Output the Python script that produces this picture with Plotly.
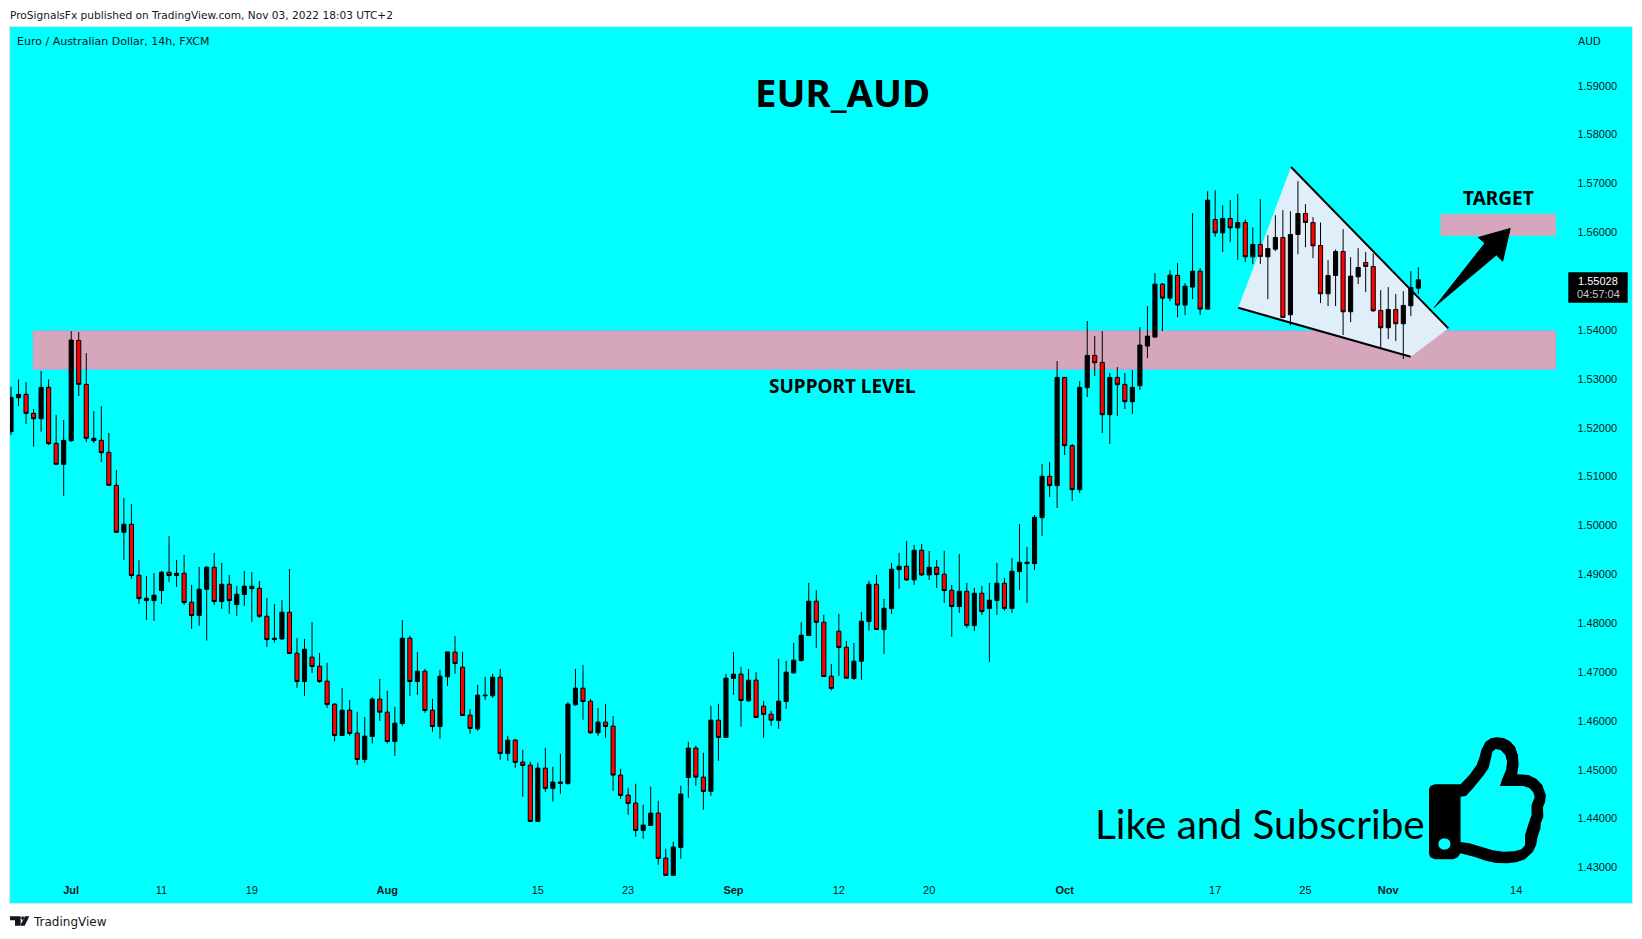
import plotly.graph_objects as go

HIGH = [1.52840,1.52990,1.52936,1.52384,1.53161,1.52990,1.52261,1.52159,1.53979,1.53959,
1.53529,1.52343,1.52445,1.51893,1.51136,1.50563,1.50440,1.49295,1.48968,1.49029,
1.49070,1.49786,1.49295,1.49397,1.48784,1.49152,1.49172,1.49438,1.49234,1.48988,
1.48763,1.49070,1.49050,1.48866,1.48517,1.48394,1.48476,1.49110,1.47699,1.47679,
1.48026,1.47392,1.47188,1.46363,1.46676,1.46431,1.46185,1.46083,1.46485,1.46860,
1.46615,1.46288,1.48067,1.47740,1.47413,1.47066,1.46452,1.47045,1.47413,1.47741,
1.47413,1.46247,1.46738,1.46902,1.46963,1.47066,1.45695,1.45634,1.45409,1.45163,
1.45143,1.45450,1.45061,1.45327,1.46384,1.47066,1.47147,1.46452,1.46268,1.46350,
1.46104,1.45020,1.44632,1.44713,1.44284,1.44652,1.44366,1.43384,1.43527,1.44673,
1.45573,1.45491,1.45348,1.46309,1.46350,1.46963,1.47413,1.47107,1.47066,1.47004,
1.46411,1.46207,1.47270,1.47229,1.47597,1.48020,1.48825,1.48681,1.48170,1.47168,
1.48191,1.47638,1.47597,1.48231,1.48866,1.48988,1.48497,1.49234,1.49438,1.49684,
1.49602,1.49622,1.49479,1.49295,1.49479,1.48784,1.49418,1.48825,1.48722,1.48763,
1.48825,1.49234,1.48927,1.49336,1.50031,1.49561,1.50215,1.51259,1.51299,1.53365,
1.53031,1.51668,1.52956,1.54184,1.53877,1.53979,1.53120,1.53243,1.53120,1.53181,
1.54061,1.54490,1.55165,1.54961,1.55227,1.55370,1.54961,1.56392,1.55267,1.56842,
1.56863,1.56556,1.56658,1.56781,1.56263,1.56099,1.56679,1.55942,1.56351,1.56454,
1.56433,1.57047,1.56576,1.56311,1.56201,1.55431,1.55649,1.56065,1.55492,1.55676,
1.55595,1.55567,1.54817,1.54879,1.54736,1.54797,1.55206,1.55288]

LOW = [1.51852,1.52445,1.52077,1.51613,1.51920,1.51647,1.51252,1.50604,1.51709,1.52649,
1.51709,1.51688,1.51300,1.50822,1.49861,1.49295,1.48906,1.48395,1.48068,1.48047,
1.48395,1.48845,1.48743,1.48375,1.47884,1.47945,1.47645,1.48375,1.48293,1.48191,
1.48150,1.48354,1.48027,1.48109,1.47515,1.47604,1.47658,1.47379,1.46676,1.46513,
1.46983,1.46779,1.46267,1.45579,1.45701,1.45701,1.45101,1.45142,1.45538,1.46001,
1.45538,1.45285,1.45899,1.46513,1.46533,1.46166,1.45777,1.45634,1.46718,1.46963,
1.46111,1.45736,1.45797,1.46432,1.46472,1.45204,1.45184,1.45041,1.44448,1.43943,
1.43943,1.44550,1.44345,1.44509,1.44693,1.46309,1.46023,1.45736,1.45695,1.45654,
1.44570,1.44407,1.44079,1.43629,1.43588,1.43861,1.43057,1.42839,1.42839,1.43179,
1.44427,1.44673,1.44182,1.44468,1.45184,1.45661,1.46534,1.45879,1.46391,1.46070,
1.45654,1.45900,1.45838,1.46247,1.46963,1.47216,1.47747,1.47495,1.46909,1.46622,
1.46922,1.46875,1.46841,1.46841,1.47843,1.47870,1.47372,1.48191,1.48702,1.48866,
1.48784,1.48968,1.48886,1.48722,1.48416,1.47720,1.48211,1.47904,1.47843,1.48170,
1.47209,1.48170,1.48252,1.48211,1.48681,1.48416,1.49090,1.49786,1.50584,1.50359,
1.51443,1.50502,1.50665,1.52629,1.53059,1.51893,1.51668,1.52240,1.52384,1.52281,
1.52772,1.53427,1.53840,1.53979,1.54593,1.54265,1.54306,1.54633,1.54306,1.54429,
1.55908,1.55595,1.55799,1.55431,1.55390,1.55349,1.55349,1.54633,1.55615,1.54245,
1.54095,1.55554,1.55697,1.55472,1.54552,1.54490,1.54490,1.53897,1.54163,1.54940,
1.54777,1.54367,1.53631,1.53815,1.53774,1.53406,1.54286,1.54736]

OPEN = [1.51920,1.52615,1.52684,1.52295,1.52186,1.52827,1.51681,1.51252,1.51736,1.53788,
1.52888,1.51784,1.51743,1.51497,1.50822,1.49861,1.50025,1.48981,1.48511,1.48463,
1.48668,1.49043,1.48975,1.49022,1.48429,1.48156,1.48695,1.49145,1.48443,1.48797,
1.48381,1.48586,1.48756,1.48715,1.48142,1.47665,1.47679,1.48224,1.47385,1.46806,
1.47304,1.47120,1.46813,1.46342,1.45701,1.46220,1.45749,1.45210,1.45681,1.46445,
1.46179,1.45579,1.45947,1.47692,1.46806,1.47018,1.46220,1.45886,1.46902,1.47407,
1.47100,1.46118,1.45838,1.46513,1.46513,1.46895,1.45334,1.45607,1.45157,1.45095,
1.43943,1.45034,1.44618,1.44720,1.44720,1.46329,1.46670,1.46404,1.45757,1.45975,
1.45893,1.44891,1.44482,1.44318,1.43759,1.43861,1.44113,1.43193,1.42839,1.43411,
1.44843,1.45443,1.44850,1.44557,1.46016,1.45661,1.46868,1.46957,1.46411,1.46834,
1.46302,1.46138,1.46009,1.46397,1.46984,1.47236,1.47747,1.48450,1.48020,1.46916,
1.47836,1.47509,1.46868,1.47222,1.48034,1.48797,1.47870,1.48300,1.49097,1.49165,
1.48886,1.49493,1.48988,1.49145,1.49002,1.48675,1.48341,1.48654,1.47952,1.48613,
1.48300,1.48463,1.48818,1.48300,1.49056,1.49220,1.49220,1.50161,1.51006,1.50815,
1.53031,1.51634,1.50734,1.52820,1.53481,1.53338,1.52268,1.53031,1.52888,1.52534,
1.52861,1.53672,1.53856,1.54940,1.54654,1.55117,1.54511,1.54879,1.55206,1.54429,
1.56263,1.55990,1.56283,1.56092,1.56201,1.55499,1.55752,1.55499,1.55656,1.55895,
1.54313,1.55956,1.56386,1.56201,1.55731,1.54742,1.55117,1.55608,1.54374,1.55090,
1.55383,1.55302,1.54402,1.54047,1.54422,1.54129,1.54497,1.54858]

CLOSE = [1.52622,1.52684,1.52295,1.52186,1.52827,1.51675,1.51252,1.51743,1.53795,1.52888,
1.51784,1.51736,1.51490,1.50822,1.49861,1.50025,1.48975,1.48504,1.48463,1.48572,
1.49043,1.48975,1.49022,1.48422,1.48156,1.48695,1.49145,1.48443,1.48797,1.48463,
1.48593,1.48756,1.48709,1.48143,1.47665,1.47692,1.48224,1.47379,1.46806,1.47467,
1.47113,1.46806,1.46335,1.45701,1.46220,1.45742,1.45210,1.45688,1.46445,1.46179,
1.45579,1.45954,1.47692,1.46806,1.47017,1.46213,1.45886,1.46916,1.47413,1.47175,
1.46111,1.45845,1.46527,1.46527,1.46895,1.45334,1.45607,1.45150,1.45088,1.43943,
1.45034,1.44618,1.44748,1.44748,1.46343,1.46670,1.46397,1.45757,1.45975,1.45886,
1.44891,1.44475,1.44311,1.43759,1.43868,1.44113,1.43186,1.42839,1.43418,1.44502,
1.45443,1.44850,1.44557,1.46016,1.45661,1.46875,1.46957,1.46418,1.46834,1.46070,
1.46132,1.46016,1.46404,1.46997,1.47243,1.47754,1.48450,1.48020,1.46909,1.46663,
1.47502,1.46875,1.47222,1.48041,1.48797,1.47870,1.48306,1.49104,1.49165,1.48886,
1.49493,1.48988,1.49145,1.48995,1.48668,1.48341,1.48654,1.47952,1.48613,1.48238,
1.48470,1.48818,1.48300,1.49063,1.49247,1.49247,1.50168,1.51006,1.50815,1.53031,
1.51634,1.50734,1.52827,1.53481,1.53331,1.52268,1.53031,1.52881,1.52534,1.52827,
1.53693,1.53877,1.54940,1.54654,1.55124,1.54511,1.54899,1.55206,1.54429,1.56658,
1.55990,1.56283,1.56092,1.56201,1.55499,1.55752,1.55506,1.55670,1.55895,1.54258,
1.55956,1.56386,1.56201,1.55724,1.54742,1.55117,1.55608,1.54374,1.55104,1.55281,
1.55302,1.54395,1.54047,1.54422,1.54129,1.54504,1.54872,1.55028]

BAR_INDEX = list(range(len(HIGH)))

X_TICK_POS = [8, 20, 32, 50, 70, 82, 96, 110, 122, 140, 160, 172, 183, 200]
X_TICK_TEXT = ["<b>Jul</b>", "11", "19", "<b>Aug</b>", "15", "23", "<b>Sep</b>", "12", "20",
               "<b>Oct</b>", "17", "25", "<b>Nov</b>", "14"]
Y_TICKS = [1.43, 1.44, 1.45, 1.46, 1.47, 1.48, 1.49, 1.50, 1.51, 1.52, 1.53, 1.54, 1.55, 1.56, 1.57, 1.58, 1.59]
Y_TICK_TEXT = ["%.5f" % v for v in Y_TICKS]

SUPPORT_X = [2.96, 205.2]
SUPPORT_Y = [1.53201, 1.53979]
TARGET_X = [190.0, 205.2]
TARGET_Y = [1.55942, 1.56372]
WEDGE_X = [170.08, 190.98, 185.98, 163.07]
WEDGE_Y = [1.57339, 1.54034, 1.53453, 1.54455]
ARROW_X = [189.08, 195.85, 194.96, 199.2, 198.2, 197.4]
ARROW_Y = [1.54455, 1.55779, 1.55895, 1.56079, 1.55410, 1.55533]

LAST_PRICE = "1.55028"
COUNTDOWN = "04:57:04"

# page geometry of the chart pane
W, H = 1642, 939
L, R, T, B = 10, 1632, 27, 903
def px(x): return (x - L) / (R - L)
def py(y): return (B - y) / (B - T)

BAR_STEP = 7.526
X_RANGE = [-1 / BAR_STEP, (R - 11) / BAR_STEP]
Y_RANGE = [1.42273, 1.60203]

fig = go.Figure()
fig.add_trace(go.Candlestick(
    x=BAR_INDEX, open=OPEN, high=HIGH, low=LOW, close=CLOSE,
    increasing=dict(fillcolor="#000000", line=dict(color="#000000", width=1)),
    decreasing=dict(fillcolor="#ff0000", line=dict(color="#000000", width=1)),
    whiskerwidth=0, showlegend=False, hoverinfo="skip",
))
# wedge edges
fig.add_trace(go.Scatter(x=WEDGE_X[:2], y=WEDGE_Y[:2], mode="lines",
                         line=dict(color="#000000", width=2), showlegend=False, hoverinfo="skip"))
fig.add_trace(go.Scatter(x=WEDGE_X[3:1:-1], y=WEDGE_Y[3:1:-1], mode="lines",
                         line=dict(color="#000000", width=2), showlegend=False, hoverinfo="skip"))
# target arrow
fig.add_trace(go.Scatter(x=ARROW_X, y=ARROW_Y, mode="lines", fill="toself", fillcolor="#000000",
                         line=dict(color="#000000", width=1), showlegend=False, hoverinfo="skip"))

def rect(xs, ys, fill, border):
    return dict(type="rect", xref="x", yref="y", x0=xs[0], x1=xs[1], y0=ys[0], y1=ys[1],
                fillcolor=fill, line=dict(color=border, width=1), layer="below")

shapes = [
    rect(SUPPORT_X, SUPPORT_Y, "#d6a6bd", "#e090c8"),
    rect(TARGET_X, TARGET_Y, "#d6a6bd", "#d6a6bd"),
    dict(type="path", xref="x", yref="y", layer="below", fillcolor="#e0eefa",
         line=dict(width=0),
         path="M" + " L".join(f"{a},{b}" for a, b in zip(WEDGE_X, WEDGE_Y)) + " Z"),
    dict(type="rect", xref="paper", yref="paper", x0=px(1568.3), x1=px(1627.7), y0=py(302.7), y1=py(272.3),
         fillcolor="#000000", line=dict(width=0), layer="above"),
]

# thumbs-up icon outline
SX, SY = 2.79, 3.0
OUT = [(972,208),(976,198),(988,193),(1060,193),(1085,165),(1105,135),(1113,112),(1118,90),(1130,65),(1145,55),
       (1160,52),(1180,54),(1197,63),(1212,80),(1220,105),(1222,135),(1218,163),(1250,165),(1272,177),(1288,195),
       (1298,225),(1296,245),(1290,262),(1291,290),(1284,310),(1283,325),(1275,350),(1271,375),(1262,395),(1240,418),
       (1215,427),(1190,430),(1160,429),(1130,422),(1100,411),(1060,400),(1052,412),(1040,418),(988,418),(976,412),(972,402)]
HOLE = [(1060,230),(1075,228),(1095,205),(1125,165),(1138,145),(1145,115),(1149,95),(1158,87),(1172,90),(1185,105),
        (1190,125),(1187,150),(1175,180),(1170,198),(1235,198),(1252,204),(1263,217),(1267,232),(1258,255),(1258,285),
        (1250,310),(1240,345),(1240,375),(1230,388),(1210,394),(1180,395),(1150,391),(1120,381),(1085,370),(1060,366)]
DOT = [(1032,372),(1030,381),(1024,387),(1015,389),(1006,387),(1000,381),(998,372),(1000,363),(1006,357),(1015,355),(1024,357),(1030,363)]
def pt(p): return f"{(p[0]-972)/SX:.2f},{(418-p[1])/SY:.2f}"
def poly(points): return "M" + " L".join(pt(p) for p in points) + " Z"
shapes.append(dict(type="path", xref="paper", yref="paper", xsizemode="pixel", ysizemode="pixel",
                   xanchor=px(1429), yanchor=py(859.3), path=poly(OUT)+" "+poly(HOLE)+" "+poly(DOT),
                   fillcolor="#000000", line=dict(width=0), layer="above"))

# TradingView mark
LOGO_A = [(30,139),(62,139),(62,167),(45,167),(45,151),(30,151)]
LOGO_B = [(75,139),(88,139),(74,167),(60,167)]
LOGO_C = [(68,139),(72,141),(73,145),(70,149),(66,149),(63,145),(64,141)]
def lpt(p): return f"{(p[0]-30)/3:.2f},{(167-p[1])/3:.2f}"
logo = " ".join("M" + " L".join(lpt(p) for p in s) + " Z" for s in (LOGO_A, LOGO_B, LOGO_C))
shapes.append(dict(type="path", xref="paper", yref="paper", xsizemode="pixel", ysizemode="pixel",
                   xanchor=px(10), yanchor=py(925.7), path=logo, fillcolor="#131722", line=dict(width=0)))

FONT = "DejaVu Sans"
def note(text, x, y, size, color="#000000", anchor="center", family="Noto Sans"):
    return dict(text=text, x=px(x), y=py(y), xref="paper", yref="paper", showarrow=False,
                xanchor=anchor, yanchor="middle", font=dict(size=size, color=color, family=family))

annotations = [
    note("<b>EUR_AUD</b>", 842, 92, 38.4),
    note("<b>SUPPORT LEVEL</b>", 842, 386, 19),
    note("<b>TARGET</b>", 1498, 198, 19),
    note("Like and Subscribe", 1093, 823, 40.5, anchor="left", family="Lato"),
    note("ProSignalsFx published on TradingView.com, Nov 03, 2022 18:03 UTC+2", 8, 15, 10.6, "#131722", "left", FONT),
    note("Euro / Australian Dollar, 14h, FXCM", 15, 42, 11, "#131722", "left", FONT),
    note("AUD", 1576, 41, 10.5, "#131722", "left", FONT),
    note("TradingView", 31, 922, 12, "#131722", "left", FONT),
    note(LAST_PRICE, 1598, 281, 11, "#ffffff", family="Liberation Sans"),
    note(COUNTDOWN, 1598, 294, 11, "#c8c8c8", family="Liberation Sans"),
]

fig.update_layout(
    width=W, height=H, autosize=False,
    margin=dict(l=L, r=W - R, t=T, b=H - B, pad=0),
    paper_bgcolor="#ffffff", plot_bgcolor="#00ffff",
    showlegend=False, shapes=shapes, annotations=annotations,
    boxgap=0.45, boxgroupgap=0,
    xaxis=dict(range=X_RANGE, rangeslider=dict(visible=False), showgrid=False, zeroline=False,
               tickmode="array", tickvals=X_TICK_POS, ticktext=X_TICK_TEXT,
               ticks="inside", ticklen=6, tickcolor="rgba(0,0,0,0)", ticklabelposition="inside",
               tickfont=dict(size=11, color="#131722", family="Liberation Sans"),
               showline=True, linecolor="#dce6ec", linewidth=1, mirror=True),
    yaxis=dict(range=Y_RANGE, side="right", showgrid=False, zeroline=False,
               tickmode="array", tickvals=Y_TICKS, ticktext=Y_TICK_TEXT,
               ticks="inside", ticklen=14, tickcolor="rgba(0,0,0,0)", ticklabelposition="inside",
               tickfont=dict(size=11, color="#131722", family="Liberation Sans"),
               showline=True, linecolor="#dce6ec", linewidth=1, mirror=True),
)

fig.write_html("out.html", config=dict(displayModeBar=False),
               post_script="document.body.style.margin='0';document.body.style.overflow='hidden';")
